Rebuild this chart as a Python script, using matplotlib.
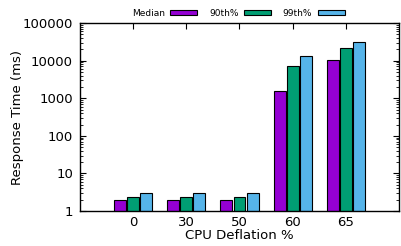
import matplotlib
matplotlib.use("Agg")
import matplotlib.pyplot as plt
from matplotlib.patches import Patch
import numpy as np

categories = ["0", "30", "50", "60", "65"]
median = [2.0, 2.0, 2.0, 1550, 10200]
p90 = [2.3, 2.3, 2.3, 7200, 21300]
p99 = [3.05, 3.1, 3.05, 13200, 31000]
series_names = ["Median", "90th%", "99th%"]
colors = ["#9400D3", "#009E73", "#56B4E9"]

fig = plt.figure(figsize=(4.01, 2.46), dpi=100)
ax = fig.add_axes([0.1995, 0.142, 0.7955, 0.7645])

x = np.arange(len(categories))
w = 0.225
step = 0.245
for i, (vals, c) in enumerate(zip([median, p90, p99], colors)):
    ax.bar(x + (i - 1) * step, vals, width=w, color=c, edgecolor="black",
           linewidth=0.8, bottom=0, zorder=2)

ax.set_yscale("log")
ax.set_ylim(1, 100000)
ax.set_xlim(-1, 5)
ax.set_xticks(x)
ax.set_xticklabels(categories)
ax.set_yticks([1, 10, 100, 1000, 10000, 100000])
ax.set_yticklabels(["1", "10", "100", "1000", "10000", "100000"])
ax.tick_params(axis="both", which="both", direction="in", top=True, right=True,
               labelsize=9.5)
ax.tick_params(axis="y", which="major", pad=5)
ax.tick_params(which="major", length=4)
ax.tick_params(which="minor", length=2)
ax.tick_params(axis="x", which="minor", bottom=False, top=False)
ax.set_xlabel("CPU Deflation %", fontsize=9.5, labelpad=0)
ax.set_ylabel("Response Time (ms)", fontsize=9.5)
ax.yaxis.set_label_coords((24 - 80) / 319, 0.5)
for s in ax.spines.values():
    s.set_linewidth(1.0)

handles = [Patch(facecolor=c, edgecolor="black", linewidth=0.8) for c in colors]
fig.legend(handles, series_names, loc="center", bbox_to_anchor=(0.594, 1 - 13 / 246),
           ncol=3, frameon=False, fontsize=6.5, markerfirst=False,
           handlelength=3.0, handleheight=0.5, columnspacing=1.3, handletextpad=0.6,
           borderpad=0, borderaxespad=0)

fig.savefig("out.png", dpi=100)
